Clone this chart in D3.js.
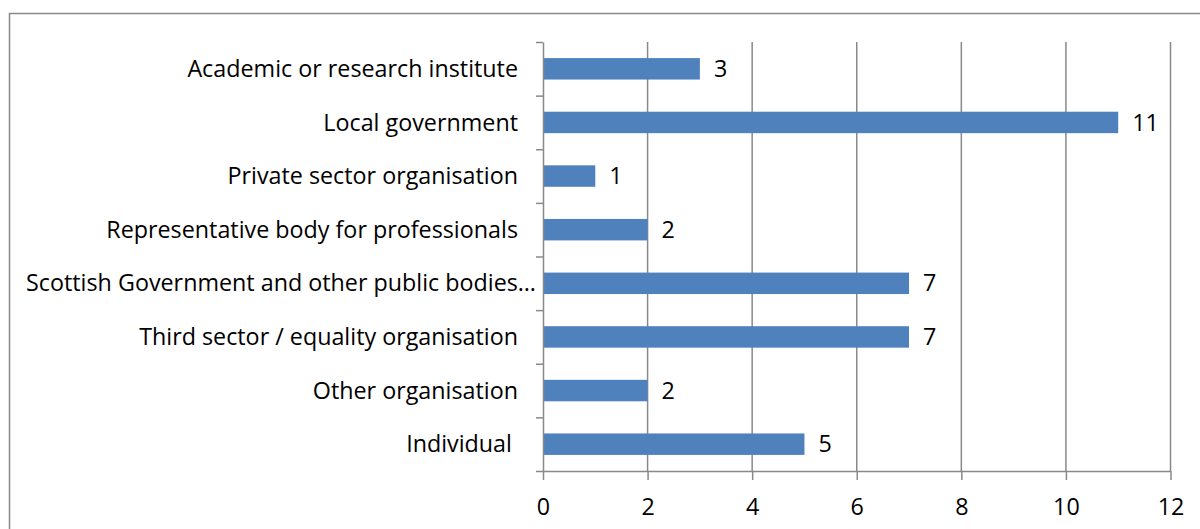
<!DOCTYPE html>
<html>
<head>
<meta charset="utf-8">
<script src="https://cdn.jsdelivr.net/npm/d3@7"></script>
<style>
  body { margin: 0; background: #fff; }
  svg { display: block; font-family: "Open Sans", sans-serif; font-variant-ligatures: none; }
  .cat { white-space: pre; }
</style>
</head>
<body>
<svg width="1200" height="529"></svg>
<script>
const categories = [
  'Academic or research institute',
  'Local government',
  'Private sector organisation',
  'Representative body for professionals',
  'Scottish Government and other public bodies…',
  'Third sector / equality organisation',
  'Other organisation',
  'Individual '
]
const counts = [3, 11, 1, 2, 7, 7, 2, 5]
const xTicks = [0, 2, 4, 6, 8, 10, 12]

const svg = d3.select('svg')
const size = { width: 1200, height: 529 }
const plot = { left: 543, right: 1170.5, top: 42, bottom: 471 }
const gray = '#898989'
const fontSize = 23.3

// outer chart frame, runs off the right and bottom edges
svg.append('rect')
  .attr('x', 9.5)
  .attr('y', 13.5)
  .attr('width', size.width + 20)
  .attr('height', size.height + 20)
  .attr('fill', 'none')
  .attr('stroke', gray)
  .attr('stroke-width', 1.5)

const x = d3.scaleLinear().domain([0, 12]).range([plot.left, plot.right])
const y = d3.scaleBand()
  .domain(categories)
  .range([plot.top, plot.bottom])
  .paddingInner(0.6)
  .paddingOuter(0.3)
const yEdge = d3.scaleLinear().domain([0, categories.length]).range([plot.top, plot.bottom])

// vertical gridlines
svg.append('g')
  .selectAll('line')
  .data(xTicks.slice(1))
  .join('line')
  .attr('x1', d => x(d))
  .attr('x2', d => x(d))
  .attr('y1', plot.top)
  .attr('y2', plot.bottom)
  .attr('stroke', gray)
  .attr('stroke-width', 1.5)

// bars
svg.append('g')
  .selectAll('rect')
  .data(categories)
  .join('rect')
  .attr('x', x(0))
  .attr('y', d => y(d))
  .attr('width', (d, i) => x(counts[i]) - x(0))
  .attr('height', y.bandwidth())
  .attr('fill', '#4f81bd')

// x axis
const xAxis = svg.append('g')
  .attr('transform', `translate(0,${plot.bottom})`)
  .call(d3.axisBottom(x).tickValues(xTicks).tickSize(9).tickSizeOuter(0).tickPadding(18))
xAxis.select('.domain').attr('stroke', gray).attr('stroke-width', 1.5)
xAxis.selectAll('.tick line').attr('stroke', gray).attr('stroke-width', 1.5)
xAxis.selectAll('.tick text')
  .attr('font-size', fontSize)
  .attr('font-family', '"Open Sans", sans-serif')
  .attr('fill', '#000')

// y axis: ticks sit between the categories
const yAxis = svg.append('g')
  .attr('transform', `translate(${plot.left},0)`)
  .call(d3.axisLeft(yEdge).ticks(categories.length).tickSize(7).tickSizeOuter(0).tickFormat(''))
yAxis.select('.domain').attr('stroke', gray).attr('stroke-width', 1.5)
yAxis.selectAll('.tick line').attr('stroke', gray).attr('stroke-width', 1.5)

// category labels
svg.append('g')
  .selectAll('text')
  .data(categories)
  .join('text')
  .attr('class', 'cat')
  .attr('x', d => d.endsWith('…') ? plot.left - 7 : plot.left - 25)
  .attr('y', d => y(d) + y.bandwidth() / 2)
  .attr('dy', '0.35em')
  .attr('text-anchor', 'end')
  .attr('font-size', fontSize)
  .text(d => d)

// value labels
svg.append('g')
  .selectAll('text')
  .data(categories)
  .join('text')
  .attr('x', (d, i) => x(counts[i]) + 14)
  .attr('y', d => y(d) + y.bandwidth() / 2)
  .attr('dy', '0.35em')
  .attr('font-size', fontSize)
  .text((d, i) => counts[i])
</script>
</body>
</html>
